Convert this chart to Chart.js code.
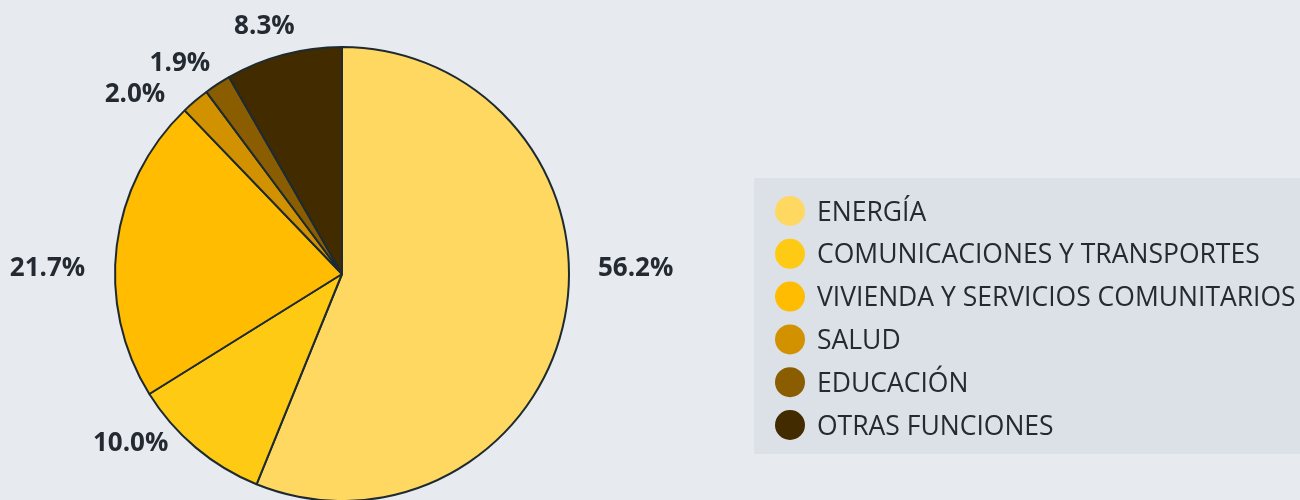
<!DOCTYPE html>
<html lang="es">
<head>
<meta charset="utf-8">
<title>Distribución por función</title>
<script src="https://cdn.jsdelivr.net/npm/chart.js@4/dist/chart.umd.min.js"></script>
<style>
    html, body {
        margin: 0;
        padding: 0;
        background: #e7eaef;
        overflow: hidden;
    }
    #wrap {
        position: relative;
        width: 1300px;
        height: 500px;
    }
</style>
</head>
<body>
<div id="wrap">
    <canvas id="pieChart" width="1300" height="500"></canvas>
</div>
<script>
"use strict";

//Datos
const categories = [
    "ENERGÍA",
    "COMUNICACIONES Y TRANSPORTES",
    "VIVIENDA Y SERVICIOS COMUNITARIOS",
    "SALUD",
    "EDUCACIÓN",
    "OTRAS FUNCIONES"
];
const shares = [56.2, 10.0, 21.7, 2.0, 1.9, 8.3];
const sliceColors = ["#ffd862", "#ffca14", "#ffbc00", "#d29200", "#8a5d00", "#432b00"];

const textColor = "#242a31";
const fontName = "'Open Sans', sans-serif";

//Handjusterade förskjutningar så att etiketterna inte krockar
const labelNudge = [[15, -60], [-33, -42], [-13, 30], [-31, 28], [-14, 15], [-10, 6]];

/**
 * Skriver procentetiketter utanför varje tårtbit
 */
const outsideLabels = {
    id: "outsideLabels",
    afterDatasetsDraw(chart){
        const ctx = chart.ctx;
        const meta = chart.getDatasetMeta(0);
        ctx.save();
        ctx.font = "bold 26px " + fontName;
        ctx.fillStyle = textColor;
        ctx.textAlign = "center";
        ctx.textBaseline = "middle";
        meta.data.forEach((arc, i) => {
            const p = arc.getProps(["x", "y", "startAngle", "endAngle", "outerRadius"], true);
            const mid = (p.startAngle + p.endAngle) / 2;
            const text = shares[i].toFixed(1) + "%";
            const halfW = ctx.measureText(text).width / 2;
            const cos = Math.cos(mid);
            const sin = Math.sin(mid);
            const dist = p.outerRadius + 18 + halfW * Math.abs(cos) + 10 * Math.abs(sin);
            const nudge = labelNudge[i] || [0, 0];
            ctx.fillText(text, p.x + cos * dist + nudge[0], p.y + sin * dist + nudge[1]);
        });
        ctx.restore();
    }
};

/**
 * Ritar förklaringsrutan till höger
 */
const sideLegend = {
    id: "sideLegend",
    afterDraw(chart){
        const ctx = chart.ctx;
        const box = { x: 754, y: 178, w: 560, h: 276 };
        ctx.save();
        ctx.fillStyle = "#dce0e7";
        ctx.fillRect(box.x, box.y, box.w, box.h);
        ctx.font = "26.5px " + fontName;
        ctx.textBaseline = "middle";
        ctx.textAlign = "left";
        categories.forEach((name, i) => {
            const cy = 211 + i * 42.8;
            ctx.beginPath();
            ctx.arc(790, cy, 15, 0, Math.PI * 2);
            ctx.fillStyle = sliceColors[i];
            ctx.fill();
            ctx.fillStyle = textColor;
            ctx.fillText(name, 817, cy + 2);
        });
        ctx.restore();
    }
};

const pieEl = document.getElementById("pieChart");
new Chart(pieEl, {
    type: "pie",
    data: {
        labels: categories,
        datasets: [{
            data: shares,
            backgroundColor: sliceColors,
            borderColor: "#1d2a31",
            borderWidth: 2,
            radius: 227,
            clip: false
        }]
    },
    options: {
        responsive: false,
        animation: false,
        layout: {
            padding: { left: 114, right: 730, top: 48, bottom: 0 }
        },
        plugins: {
            legend: { display: false },
            tooltip: { enabled: false }
        }
    },
    plugins: [outsideLabels, sideLegend]
});
</script>
</body>
</html>
